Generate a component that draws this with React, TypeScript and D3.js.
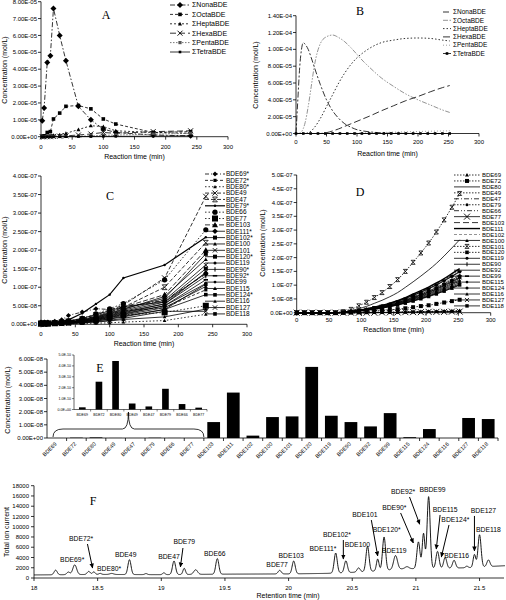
import React from 'react';
import * as d3 from 'd3';

const SANS = "'Liberation Sans', Arial, Helvetica, sans-serif";
const SERIF = "'Liberation Serif', 'Times New Roman', serif";

// ---------------- Panel A (units 1e-5 mol/L) ----------------
const aTimes = [2, 5, 10, 15, 20, 30, 40, 60, 80, 100, 120, 180, 240];
const aNames = ['ΣNonaBDE', 'ΣOctaBDE', 'ΣHeptaBDE', 'ΣHexaBDE', 'ΣPentaBDE', 'ΣTetraBDE'];
const aNona = [0.95, 1.7, 4.4, 4.8, 7.6, 6.0, 4.5, 1.8, 1.0, 0.45, 0.25, 0.1, 0.05];
const aOcta = [0.02, 0.05, 0.25, 0.3, 1.05, 1.4, 1.8, 1.85, 1.65, 1.05, 0.75, 0.25, 0.3];
const aHepta = [0, 0, 0.02, 0.05, 0.08, 0.12, 0.2, 0.42, 0.65, 0.6, 0.35, 0.25, 0.2];
const aHexa = [0, 0, 0, 0, 0.02, 0.03, 0.05, 0.1, 0.16, 0.25, 0.2, 0.3, 0.35];
const aPenta = [0, 0, 0, 0, 0, 0.01, 0.02, 0.03, 0.05, 0.08, 0.1, 0.15, 0.2];
const aTetra = [0, 0, 0, 0, 0, 0, 0, 0.01, 0.01, 0.02, 0.02, 0.03, 0.05];

// ---------------- Panel B (units 1e-5 mol/L) ----------------
const bTimes = [0, 3, 6, 9, 12, 15, 20, 25, 30, 40, 50, 60, 70, 80, 90, 100, 110, 120, 140, 160, 180, 200, 220, 240, 252];
const bNona = [0, 4.0, 7.8, 10.0, 10.8, 10.6, 10.0, 9.0, 7.9, 5.8, 4.0, 2.7, 1.8, 1.15, 0.75, 0.45, 0.3, 0.2, 0.08, 0.03, 0.01, 0, 0, 0, 0];
const bOcta = [0, 0, 0.05, 0.2, 0.6, 1.3, 3.2, 5.6, 8.0, 10.7, 11.5, 11.7, 11.4, 10.9, 10.2, 9.4, 8.6, 7.9, 6.6, 5.6, 4.7, 4.0, 3.4, 2.8, 2.5];
const bHepta = [0, 0, 0, 0, 0, 0, 0.1, 0.3, 0.7, 1.8, 3.2, 4.6, 6.0, 7.2, 8.2, 9.0, 9.6, 10.1, 10.8, 11.1, 11.3, 11.35, 11.3, 11.1, 11.0];
const bHexa = [0, 0, 0, 0, 0, 0, 0, 0, 0, 0, 0.1, 0.3, 0.55, 0.85, 1.15, 1.45, 1.75, 2.05, 2.7, 3.3, 3.9, 4.4, 4.95, 5.45, 5.7];
const bPenta = [0, 0, 0, 0, 0, 0, 0, 0, 0, 0, 0, 0, 0, 0, 0.02, 0.04, 0.06, 0.08, 0.12, 0.16, 0.2, 0.24, 0.27, 0.3, 0.32];
const bTetraTimes = [0, 12, 24, 36, 48, 60, 72, 84, 96, 108, 120, 132, 144, 156, 168, 180, 192, 204, 216, 228, 240, 252];
const bTetra = [0, 0, 0, 0, 0, 0, 0, 0, 0, 0, 0, 0, 0, 0, 0, 0, 0, 0, 0, 0, 0, 0];

// ---------------- Panel C (units 1e-8 mol/L) ----------------
const cTimes = [0, 5, 10, 20, 30, 40, 60, 80, 100, 120, 180, 240];
const cNames = ['BDE69*', 'BDE72*', 'BDE80*', 'BDE49', 'BDE47', 'BDE79*', 'BDE66', 'BDE77', 'BDE103', 'BDE111*', 'BDE102*', 'BDE100', 'BDE101', 'BDE120*', 'BDE119', 'BDE90*', 'BDE92*', 'BDE99', 'BDE115', 'BDE124*', 'BDE116', 'BDE127', 'BDE118'];
const cValues = [
  [0.6, 0.6, 0.6, 0.8, 1.2, 2.4, 3.3, 4.2, 4.0, 4.6, 6.5, 13.5],
  [0.3, 0.3, 0.3, 0.4, 0.5, 0.7, 1.0, 1.6, 2.6, 3.6, 4.5, 9.3],
  [0, 0, 0, 0, 0, 0.1, 0.2, 0.3, 0.4, 0.6, 1.0, 2.7],
  [0.2, 0.2, 0.3, 0.3, 0.5, 0.8, 1.5, 2.6, 3.8, 5.2, 12.5, 34.5],
  [0.2, 0.2, 0.2, 0.3, 0.5, 0.8, 1.3, 2.2, 3.2, 4.6, 10.0, 22.0],
  [0.5, 0.5, 0.5, 0.6, 0.8, 1.2, 3.0, 5.5, 8.0, 12.5, 16.0, 23.5],
  [0.3, 0.3, 0.3, 0.4, 0.6, 0.9, 1.6, 2.8, 4.2, 5.6, 12.0, 25.5],
  [0.2, 0.2, 0.2, 0.3, 0.4, 0.5, 0.8, 1.2, 1.8, 2.5, 3.2, 5.0],
  [0.2, 0.2, 0.2, 0.3, 0.5, 0.7, 1.3, 2.2, 3.3, 4.6, 8.0, 20.0],
  [0.3, 0.3, 0.3, 0.4, 0.6, 0.9, 1.6, 2.6, 3.6, 4.8, 6.0, 13.8],
  [0.2, 0.2, 0.2, 0.3, 0.4, 0.7, 1.2, 2.0, 3.0, 4.2, 7.0, 19.0],
  [0.2, 0.2, 0.2, 0.3, 0.4, 0.6, 1.1, 1.9, 2.9, 4.0, 7.5, 17.5],
  [0.2, 0.2, 0.2, 0.3, 0.4, 0.6, 1.0, 1.8, 2.7, 3.8, 6.5, 16.0],
  [0.1, 0.1, 0.2, 0.2, 0.3, 0.5, 0.9, 1.6, 2.5, 3.5, 6.0, 15.0],
  [0.1, 0.1, 0.2, 0.2, 0.3, 0.5, 0.9, 1.5, 2.3, 3.3, 5.5, 14.0],
  [0.1, 0.1, 0.1, 0.2, 0.3, 0.4, 0.8, 1.4, 2.2, 3.1, 5.5, 13.0],
  [0.1, 0.1, 0.1, 0.2, 0.3, 0.4, 0.7, 1.3, 2.0, 2.9, 5.0, 12.0],
  [0.1, 0.1, 0.1, 0.2, 0.3, 0.4, 0.7, 1.2, 1.9, 2.7, 5.0, 11.0],
  [0.1, 0.1, 0.1, 0.2, 0.2, 0.3, 0.6, 1.1, 1.7, 2.5, 4.5, 10.2],
  [0.1, 0.1, 0.1, 0.1, 0.2, 0.3, 0.5, 0.9, 1.5, 2.2, 4.0, 8.0],
  [0, 0, 0.1, 0.1, 0.1, 0.2, 0.4, 0.6, 0.9, 1.3, 2.0, 4.1],
  [0, 0, 0.1, 0.1, 0.1, 0.2, 0.4, 0.7, 1.1, 1.6, 3.5, 3.5],
  [0.1, 0.1, 0.1, 0.1, 0.2, 0.3, 0.5, 0.9, 1.4, 2.0, 4.0, 10.8],
];

// ---------------- Panel D (units 1e-8 mol/L) ----------------
const dTimes = [0, 12, 24, 36, 48, 60, 72, 84, 96, 108, 120, 132, 144, 156, 168, 180, 192, 204, 216, 228, 240, 252];
const dNames = ['BDE69', 'BDE72', 'BDE80', 'BDE49', 'BDE47', 'BDE79', 'BDE66', 'BDE77', 'BDE103', 'BDE111', 'BDE102', 'BDE100', 'BDE101', 'BDE120', 'BDE119', 'BDE90', 'BDE92', 'BDE99', 'BDE115', 'BDE124', 'BDE116', 'BDE127', 'BDE118'];
const dValues = [
  [0, 0, 0, 0, 0, 0, 0, 0, 0, 0.1, 0.1, 0.1, 0.2, 0.2, 0.3, 0.3, 0.4, 0.5, 0.5, 0.6, 0.7, 0.8],
  [0, 0, 0, 0, 0, 0, 0, 0.1, 0.3, 0.4, 0.6, 0.8, 1, 1.3, 1.6, 2, 2.4, 2.7, 3.2, 3.7, 4.2, 4.7],
  [0, 0, 0, 0, 0, 0, 0.3, 0.7, 1.5, 2.3, 3.4, 4.5, 5.8, 7.3, 9.2, 11.2, 13.3, 15.5, 17.9, 20.6, 23.5, 26.5],
  [0, 0, 0, 0, 0, 0, 0, 0, 0, 0, 0, 0.1, 0.1, 0.1, 0.1, 0.2, 0.2, 0.2, 0.2, 0.3, 0.3, 0.3],
  [0, 0, 0, 0, 0, 0, 0, 0, 0, 0, 0.1, 0.1, 0.1, 0.1, 0.2, 0.2, 0.3, 0.3, 0.3, 0.4, 0.4, 0.5],
  [0, 0, 0, 0, 0, 0, 0, 0, 0, 0, 0.1, 0.1, 0.1, 0.2, 0.2, 0.3, 0.3, 0.4, 0.4, 0.5, 0.5, 0.6],
  [0, 0, 0, 0, 0, 0, 0.2, 0.4, 0.9, 1.4, 2, 2.6, 3.4, 4.3, 5.4, 6.6, 7.8, 9.1, 10.5, 12.1, 13.7, 15.5],
  [0, 0, 0, 0, 0, 0, 0, 0, 0, 0, 0, 0.1, 0.1, 0.1, 0.2, 0.2, 0.2, 0.3, 0.3, 0.3, 0.4, 0.4],
  [0, 0, 0, 0, 0, 0, 0.1, 0.4, 0.7, 1.1, 1.6, 2.1, 2.7, 3.5, 4.3, 5.3, 6.3, 7.3, 8.5, 9.7, 11.1, 12.5],
  [0, 0, 0, 0, 0, 0, 0.2, 0.4, 0.9, 1.4, 2, 2.7, 3.5, 4.4, 5.5, 6.8, 8, 9.3, 10.8, 12.4, 14.2, 16],
  [0, 0, 0, 0, 0, 0, 0.1, 0.4, 0.8, 1.2, 1.8, 2.4, 3.1, 3.9, 4.8, 5.9, 7, 8.2, 9.5, 10.9, 12.4, 14],
  [0, 0, 0, 0, 0, 0, 0.1, 0.3, 0.6, 1, 1.4, 1.9, 2.4, 3, 3.8, 4.7, 5.5, 6.4, 7.4, 8.6, 9.7, 11],
  [0, 0, 0, 0, 0, 0, 0.4, 1.2, 2.5, 3.8, 5.5, 7.3, 9.5, 12, 15, 18.3, 21.7, 25.3, 29.3, 33.7, 38.3, 43.3],
  [0, 0, 0, 0, 0, 0, 0.1, 0.4, 0.8, 1.1, 1.7, 2.2, 2.8, 3.6, 4.5, 5.5, 6.5, 7.6, 8.8, 10.1, 11.5, 13],
  [0, 0, 0, 0, 0, 0, 0.1, 0.4, 0.9, 1.3, 1.9, 2.5, 3.2, 4.1, 5.1, 6.3, 7.4, 8.6, 10, 11.5, 13.1, 14.8],
  [0, 0, 0, 0, 0, 0, 0.1, 0.3, 0.7, 1.1, 1.5, 2, 2.6, 3.3, 4.2, 5.1, 6, 7, 8.1, 9.3, 10.6, 12],
  [0, 0, 0, 0, 0, 0, 0.1, 0.3, 0.6, 0.9, 1.3, 1.8, 2.3, 2.9, 3.6, 4.4, 5.3, 6.1, 7.1, 8.2, 9.3, 10.5],
  [0, 0, 0, 0, 0, 0, 0.2, 0.4, 0.9, 1.3, 1.9, 2.5, 3.3, 4.2, 5.2, 6.3, 7.5, 8.8, 10.2, 11.7, 13.3, 15],
  [0, 0, 0, 0, 0, 0, 0.1, 0.3, 0.7, 1, 1.5, 1.9, 2.5, 3.2, 4, 4.9, 5.8, 6.7, 7.8, 8.9, 10.2, 11.5],
  [0, 0, 0, 0, 0, 0, 0.1, 0.4, 0.8, 1.2, 1.7, 2.3, 3, 3.7, 4.7, 5.7, 6.8, 7.9, 9.1, 10.5, 11.9, 13.5],
  [0, 0, 0, 0, 0, 0, 0.1, 0.3, 0.6, 0.9, 1.3, 1.7, 2.2, 2.8, 3.5, 4.2, 5, 5.8, 6.8, 7.8, 8.9, 10],
  [0, 0, 0, 0, 0, 0, 0.1, 0.4, 0.7, 1.1, 1.6, 2.2, 2.8, 3.5, 4.4, 5.4, 6.4, 7.5, 8.7, 10, 11.3, 12.8],
  [0, 0, 0, 0, 0, 0, 0.1, 0.3, 0.6, 0.9, 1.3, 1.7, 2.2, 2.8, 3.5, 4.3, 5.1, 6, 6.9, 7.9, 9, 10.2],
];

// ---------------- Panel E ----------------
const eCats = ['BDE69', 'BDE72', 'BDE80', 'BDE49', 'BDE47', 'BDE79', 'BDE66', 'BDE77', 'BDE103', 'BDE111', 'BDE102', 'BDE100', 'BDE101', 'BDE120', 'BDE119', 'BDE90', 'BDE92', 'BDE99', 'BDE115', 'BDE124', 'BDE116', 'BDE127', 'BDE118'];
const eValues = [0.002, 0.0255, 0.0445, 0.0055, 0.0028, 0.019, 0.005, 0.0017, 1.21, 3.45, 0.18, 1.59, 1.64, 5.4, 1.69, 1.21, 0.88, 1.89, 0.06, 0.68, 0, 1.52, 1.44]; // 1e-8
const iCats = ['BDE69', 'BDE72', 'BDE80', 'BDE49', 'BDE47', 'BDE79', 'BDE66', 'BDE77'];
const iValues = [0.2, 2.55, 4.45, 0.55, 0.28, 1.9, 0.5, 0.17]; // 1e-10

// ---------------- Panel F ----------------
const fBaseT = [18, 18.5, 19, 19.5, 20, 20.3, 20.5, 20.7, 20.9, 21.2, 21.4, 21.7];
const fBaseV = [600, 700, 650, 750, 800, 900, 1100, 1400, 1800, 1900, 2000, 2400];
const fPeakT = [18.17, 18.27, 18.32, 18.43, 18.47, 18.52, 18.61, 18.75, 18.88, 19.02, 19.10, 19.18, 19.27, 19.44, 19.93, 20.04, 20.37, 20.45, 20.55, 20.62, 20.70, 20.75, 20.84, 20.93, 21.02, 21.06, 21.10, 21.17, 21.23, 21.30, 21.40, 21.46, 21.50, 21.57];
const fPeakH = [900, 500, 1900, 600, 500, 200, 200, 2900, 200, 350, 2650, 1200, 900, 3050, 700, 2500, 3900, 2300, 800, 4900, 2300, 6500, 2700, 400, 5200, 6800, 14000, 3300, 2100, 1500, 300, 2500, 6300, 1300];
const fPeakW = [0.012, 0.012, 0.015, 0.012, 0.01, 0.01, 0.015, 0.012, 0.01, 0.01, 0.012, 0.01, 0.015, 0.012, 0.012, 0.012, 0.012, 0.012, 0.012, 0.012, 0.01, 0.012, 0.015, 0.015, 0.012, 0.01, 0.012, 0.012, 0.012, 0.012, 0.01, 0.01, 0.012, 0.012];
// annotation: label, text (t, signal), optional arrow from -> to
const fLabels = ['BDE69*', 'BDE72*', 'BDE80*', 'BDE49', 'BDE47', 'BDE79', 'BDE66', 'BDE77', 'BDE103', 'BDE111*', 'BDE102*', 'BDE100', 'BDE101', 'BDE120*', 'BDE119', 'BDE90*', 'BDE92*', 'BBDE99', 'BDE115', 'BDE124*', 'BDE127', 'BDE118', 'BDE116'];
const fLabelT = [18.30, 18.37, 18.59, 18.72, 19.06, 19.18, 19.42, 19.91, 20.02, 20.27, 20.38, 20.54, 20.60, 20.77, 20.83, 20.83, 20.90, 21.13, 21.23, 21.31, 21.53, 21.57, 21.32];
const fLabelS = [3120, 7200, 1360, 4100, 3700, 6630, 4300, 2150, 3900, 5260, 8000, 6050, 11900, 8970, 4875, 13260, 16380, 16770, 12870, 10920, 12680, 8970, 3900];
const fArrows = [
  { from: [18.42, 6630], to: [18.46, 1950] },
  { from: [19.17, 5850], to: [19.15, 2150] },
  { from: [20.43, 7400], to: [20.43, 3700] },
  { from: [20.65, 11300], to: [20.70, 4300] },
  { from: [20.88, 12680], to: [20.98, 6830] },
  { from: [20.95, 15800], to: [21.03, 10500] },
  { from: [21.19, 12290], to: [21.16, 5650] },
  { from: [21.26, 10340], to: [21.20, 4100] },
  { from: [21.46, 12100], to: [21.46, 5270] },
];

// ---------------- styles ----------------
type St = { dash?: string; color?: string; width?: number; marker?: string; r?: number };
const aStyles: St[] = [
  { dash: '5,2,1.5,2', marker: 'diamond', r: 3 },
  { dash: '3,2', marker: 'square', r: 1.8 },
  { dash: '2,2', marker: 'triangle', r: 2 },
  { dash: '6,3', marker: 'x', r: 2.5 },
  { dash: '1.5,1.5', color: '#555', marker: 'square', r: 1.6 },
  { marker: 'square', r: 1.3 },
];
const bStyles: St[] = [
  { dash: '6,2,2,2' },
  { dash: '5,1.5,1.5,1.5,1.5,1.5', color: '#777' },
  { dash: '1.5,2' },
  { dash: '7,3' },
  { dash: '1,2', color: '#888' },
  { marker: 'square', r: 1.3 },
];
const cStyles: St[] = [
  { dash: '4,2,1,2', marker: 'diamond', r: 2.5 },
  { dash: '3,2', marker: 'square', r: 1.6 },
  { dash: '1.5,2', marker: 'triangle', r: 1.8 },
  { dash: '4,2', marker: 'x', r: 2.6 },
  { dash: '4,2', marker: 'xbar', r: 2.4 },
  { width: 1.2, marker: 'circle', r: 1.2 },
  { dash: '1.5,2', marker: 'circle', r: 2.6 },
  { dash: '1.5,2', marker: 'square', r: 3 },
  { dash: '5,2', marker: 'triangle', r: 3 },
  { marker: 'diamond', r: 2.8 },
  { marker: 'square', r: 2 },
  { marker: 'triangle', r: 2 },
  { marker: 'x', r: 2.2 },
  { marker: 'square', r: 2 },
  { marker: 'circle', r: 1.5 },
  { marker: 'vbar', r: 2.2 },
  { marker: 'hbar', r: 2.2 },
  { marker: 'circle', r: 1.4 },
  { marker: 'triangle', r: 2 },
  { marker: 'square', r: 1.8 },
  { marker: 'triangle', r: 1.8 },
  { marker: 'x', r: 2.2 },
  { marker: 'square', r: 1.8 },
];
const dStyles: St[] = [
  { dash: '1.5,1.5', marker: 'triangle', r: 2 },
  { dash: '1.5,1.5', marker: 'square', r: 2 },
  {},
  { dash: '1.5,1.5' },
  { dash: '5,2,1,2' },
  { dash: '1.5,1.5', marker: 'circle', r: 1.5 },
  { dash: '5,2,1,2,1,2' },
  { marker: 'x', r: 3 },
  { dash: '6,3' },
  { width: 1.4 },
  { dash: '3,2', color: '#777' },
  { marker: 'triangle', r: 1.8 },
  { dash: '1.5,1.5', marker: 'xbar', r: 2 },
  { dash: '1.5,1.5', marker: 'square', r: 1.8 },
  { marker: 'circle', r: 1.5 },
  { marker: 'vbar', r: 2 },
  {},
  { marker: 'hbar', r: 2 },
  { marker: 'circle', r: 1.3 },
  { marker: 'circle', r: 1.5 },
  { marker: 'triangle', r: 1.8 },
  { marker: 'x', r: 2 },
  { marker: 'square', r: 1.7 },
];

const fmtE = (v: number, d: number) => {
  const s = v.toExponential(d);
  const [m, e] = s.split('e');
  const sign = e[0] === '-' ? '-' : '+';
  const num = e.replace(/[+-]/, '').padStart(2, '0');
  return `${m}E${sign}${num}`;
};

function Marker({ type, x, y, r, color }: { type?: string; x: number; y: number; r: number; color: string }) {
  if (!type) return null;
  switch (type) {
    case 'diamond':
      return <path d={`M${x},${y - r}L${x + r},${y}L${x},${y + r}L${x - r},${y}Z`} fill={color} />;
    case 'square':
      return <rect x={x - r} y={y - r} width={2 * r} height={2 * r} fill={color} />;
    case 'triangle':
      return <path d={`M${x},${y - r}L${x + r},${y + r * 0.8}L${x - r},${y + r * 0.8}Z`} fill={color} />;
    case 'x':
      return <path d={`M${x - r},${y - r}L${x + r},${y + r}M${x - r},${y + r}L${x + r},${y - r}`} stroke={color} strokeWidth={0.9} fill="none" />;
    case 'xbar':
      return <path d={`M${x - r},${y - r}L${x + r},${y + r}M${x - r},${y + r}L${x + r},${y - r}M${x - r},${y - r}L${x + r},${y - r}M${x - r},${y + r}L${x + r},${y + r}`} stroke={color} strokeWidth={0.8} fill="none" />;
    case 'circle':
      return <circle cx={x} cy={y} r={r} fill={color} />;
    case 'vbar':
      return <path d={`M${x},${y - r}L${x},${y + r}`} stroke={color} strokeWidth={1} />;
    case 'hbar':
      return <path d={`M${x - r},${y}L${x + r},${y}`} stroke={color} strokeWidth={1.6} />;
    default:
      return null;
  }
}

type Ser = { xs: number[]; ys: number[]; unit: number; st: St; smooth?: boolean };
type Box = { l: number; r: number; b: number; t: number };

function XYPanel(props: {
  box: Box; xMax: number; yMax: number; nY: number; yDigits: number; series: Ser[];
  names: string[]; legStyles: St[]; leg: { x1: number; x2: number; tx: number; y0: number; dy: number; fs: number };
  letter: string; letterX: number; letterY: number;
  xTickY: number; xTitleY: number; yTitleX: number; yTitleY: number; tickFs: number;
}) {
  const { box, xMax, yMax, nY, yDigits, series, names, legStyles, leg } = props;
  const x = d3.scaleLinear().domain([0, xMax]).range([box.l, box.r]);
  const y = d3.scaleLinear().domain([0, yMax]).range([box.b, box.t]);
  const xTicks = d3.range(0, xMax + 1, 50);
  const yTicks = d3.range(0, nY + 1).map((i) => (yMax * i) / nY);
  return (
    <g>
      {series.map((s, i) => {
        const pts = s.xs.map((t, j) => [x(t), y(s.ys[j] * s.unit)] as [number, number]);
        const gen = d3.line().curve(s.smooth ? d3.curveMonotoneX : d3.curveLinear);
        const color = s.st.color || '#000';
        return (
          <g key={i}>
            <path d={gen(pts) || ''} fill="none" stroke={color} strokeWidth={s.st.width || 0.8} strokeDasharray={s.st.dash} />
            {s.st.marker && pts.map((p, j) => <Marker key={j} type={s.st.marker} x={p[0]} y={p[1]} r={s.st.r || 2} color={color} />)}
          </g>
        );
      })}
      {/* axes */}
      <line x1={box.l} x2={box.l} y1={box.b} y2={box.t} stroke="#000" strokeWidth={0.8} />
      <line x1={box.l} x2={box.r} y1={box.b} y2={box.b} stroke="#000" strokeWidth={0.8} />
      {yTicks.map((v, i) => (
        <g key={i}>
          <line x1={box.l - 3} x2={box.l} y1={y(v)} y2={y(v)} stroke="#000" strokeWidth={0.8} />
          <text x={box.l - 4} y={y(v)} dy="0.35em" textAnchor="end" fontSize={props.tickFs}>{fmtE(v, yDigits)}</text>
        </g>
      ))}
      {xTicks.map((v, i) => (
        <g key={i}>
          <line x1={x(v)} x2={x(v)} y1={box.b} y2={box.b + 3} stroke="#000" strokeWidth={0.8} />
          <text x={x(v)} y={props.xTickY} dy="0.35em" textAnchor="middle" fontSize={props.tickFs}>{v}</text>
        </g>
      ))}
      <text x={(box.l + box.r) / 2} y={props.xTitleY} dy="0.35em" textAnchor="middle" fontSize={7}>Reaction time (min)</text>
      <text transform={`translate(${props.yTitleX},${props.yTitleY}) rotate(-90)`} dy="0.35em" textAnchor="middle" fontSize={7}>Concentration (mol/L)</text>
      <text x={props.letterX} y={props.letterY} dy="0.35em" textAnchor="middle" fontSize={12} fontFamily={SERIF}>{props.letter}</text>
      {/* legend */}
      {names.map((n, i) => {
        const st = legStyles[i];
        const yy = leg.y0 + i * leg.dy;
        const color = st.color || '#000';
        return (
          <g key={n}>
            <line x1={leg.x1} x2={leg.x2} y1={yy} y2={yy} stroke={color} strokeWidth={st.width || 0.8} strokeDasharray={st.dash} />
            <Marker type={st.marker} x={(leg.x1 + leg.x2) / 2} y={yy} r={st.r || 2} color={color} />
            <text x={leg.tx} y={yy} dy="0.35em" fontSize={leg.fs}>{n}</text>
          </g>
        );
      })}
    </g>
  );
}

function PanelE() {
  const x = d3.scaleBand().domain(eCats).range([47, 498]).paddingInner(0.35).paddingOuter(0.175);
  const xb = d3.scaleBand().domain(eCats).range([47, 498]);
  const y = d3.scaleLinear().domain([0, 6e-8]).range([438, 359]);
  const yTicks = d3.range(0, 7).map((i) => i * 1e-8);
  const ix = d3.scaleBand().domain(iCats).range([74, 207]).paddingInner(0.6).paddingOuter(0.3);
  const ixb = d3.scaleBand().domain(iCats).range([74, 207]);
  const iy = d3.scaleLinear().domain([0, 5e-10]).range([409.5, 355]);
  const iTicks = d3.range(0, 6).map((i) => i * 1e-10);
  const bl = (xb('BDE69') as number) + 6;
  const br = xb('BDE103') as number;
  const bc = (bl + br) / 2;
  const by0 = y(0) - 1;
  const by1 = by0 - 8;
  const brace = `M${bl},${by0} Q${bl},${by1} ${bl + 10},${by1} L${bc - 6},${by1} Q${bc},${by1} ${bc},${by1 - 17} Q${bc},${by1} ${bc + 6},${by1} L${br - 10},${by1} Q${br},${by1} ${br},${by0}`;
  return (
    <g>
      {eCats.map((c, i) => (
        <rect key={c} x={x(c)} width={x.bandwidth()} y={y(eValues[i] * 1e-8)} height={y(0) - y(eValues[i] * 1e-8)} fill="#000" />
      ))}
      <line x1={47} x2={47} y1={y(0)} y2={y(6e-8)} stroke="#000" strokeWidth={0.8} />
      <line x1={47} x2={498} y1={y(0)} y2={y(0)} stroke="#000" strokeWidth={0.8} />
      {yTicks.map((v, i) => (
        <g key={i}>
          <line x1={44} x2={47} y1={y(v)} y2={y(v)} stroke="#000" strokeWidth={0.8} />
          <text x={43} y={y(v)} dy="0.35em" textAnchor="end" fontSize={6}>{fmtE(v, 2)}</text>
        </g>
      ))}
      {eCats.map((c, i) => (
        <g key={c}>
          <line x1={(xb(c) as number) + xb.bandwidth()} x2={(xb(c) as number) + xb.bandwidth()} y1={y(0)} y2={y(0) + 3} stroke="#000" strokeWidth={0.8} />
          <text transform={`translate(${(xb(c) as number) + xb.bandwidth() / 2 - 1},${y(0) + 5}) rotate(-45)`} textAnchor="end" dy="0.35em" fontSize={5.5}>{c}</text>
        </g>
      ))}
      <text transform={`translate(8,400) rotate(-90)`} dy="0.35em" textAnchor="middle" fontSize={7}>Concentration (mol/L)</text>
      <text x={100} y={368} dy="0.35em" textAnchor="middle" fontSize={12} fontFamily={SERIF}>E</text>
      {/* inset */}
      {iCats.map((c, i) => (
        <rect key={c} x={ix(c)} width={ix.bandwidth()} y={iy(iValues[i] * 1e-10)} height={iy(0) - iy(iValues[i] * 1e-10)} fill="#000" />
      ))}
      <line x1={74} x2={74} y1={iy(0)} y2={iy(5e-10)} stroke="#000" strokeWidth={0.6} />
      <line x1={74} x2={207} y1={iy(0)} y2={iy(0)} stroke="#000" strokeWidth={0.6} />
      {iTicks.map((v, i) => (
        <g key={i}>
          <line x1={72} x2={74} y1={iy(v)} y2={iy(v)} stroke="#000" strokeWidth={0.5} />
          <text x={71} y={iy(v)} dy="0.35em" textAnchor="end" fontSize={3.6}>{fmtE(v, 1)}</text>
        </g>
      ))}
      {iCats.map((c) => (
        <g key={c}>
          <line x1={(ixb(c) as number) + ixb.bandwidth()} x2={(ixb(c) as number) + ixb.bandwidth()} y1={iy(0)} y2={iy(0) + 2} stroke="#000" strokeWidth={0.5} />
          <text x={(ixb(c) as number) + ixb.bandwidth() / 2} y={iy(0) + 5} dy="0.35em" textAnchor="middle" fontSize={3.6}>{c}</text>
        </g>
      ))}
      <path d={brace} fill="none" stroke="#000" strokeWidth={0.8} />
    </g>
  );
}

function PanelF() {
  const x = d3.scaleLinear().domain([18, 21.7]).range([34, 505]);
  const y = d3.scaleLinear().domain([0, 18000]).range([578, 485.7]);
  const base = d3.scaleLinear().domain(fBaseT).range(fBaseV);
  const ts = d3.range(18, 21.7001, 0.002);
  const sig = (t: number) => {
    let s = base(t);
    for (let k = 0; k < fPeakT.length; k++) {
      const z = (t - fPeakT[k]) / fPeakW[k];
      s += fPeakH[k] * Math.exp(-0.5 * z * z);
    }
    return s;
  };
  const line = d3.line<number>().x((t) => x(t)).y((t) => y(sig(t)));
  const xTicks = [18, 18.5, 19, 19.5, 20, 20.5, 21, 21.5];
  const yTicks = d3.range(0, 18001, 2000);
  return (
    <g>
      <defs>
        <marker id="ah" viewBox="0 0 10 10" refX="9" refY="5" markerWidth="5" markerHeight="5" orient="auto">
          <path d="M0,0.5L10,5L0,9.5Z" fill="#000" />
        </marker>
      </defs>
      <path d={line(ts) || ''} fill="none" stroke="#000" strokeWidth={0.9} />
      <line x1={34} x2={34} y1={y(0)} y2={y(18000)} stroke="#000" strokeWidth={0.8} />
      <line x1={34} x2={504} y1={y(0)} y2={y(0)} stroke="#000" strokeWidth={0.8} />
      {yTicks.map((v) => (
        <g key={v}>
          <line x1={31} x2={34} y1={y(v)} y2={y(v)} stroke="#000" strokeWidth={0.8} />
          <text x={29} y={y(v)} dy="0.35em" textAnchor="end" fontSize={6}>{v}</text>
        </g>
      ))}
      {xTicks.map((v) => (
        <g key={v}>
          <line x1={x(v)} x2={x(v)} y1={y(0)} y2={y(0) + 3} stroke="#000" strokeWidth={0.8} />
          <text x={x(v)} y={588} dy="0.35em" textAnchor="middle" fontSize={6}>{v}</text>
        </g>
      ))}
      <text x={288} y={596} dy="0.35em" textAnchor="middle" fontSize={7}>Retention time (min)</text>
      <text transform={`translate(7,532) rotate(-90)`} dy="0.35em" textAnchor="middle" fontSize={7}>Total ion current</text>
      <text x={93} y={501} dy="0.35em" textAnchor="middle" fontSize={12} fontFamily={SERIF}>F</text>
      {fLabels.map((l, i) => (
        <text key={l} x={x(fLabelT[i])} y={y(fLabelS[i])} textAnchor="middle" fontSize={6.8}>{l}</text>
      ))}
      {fArrows.map((a, i) => (
        <line key={i} x1={x(a.from[0])} y1={y(a.from[1])} x2={x(a.to[0])} y2={y(a.to[1])} stroke="#000" strokeWidth={1} markerEnd="url(#ah)" />
      ))}
    </g>
  );
}

export default function App() {
  const aSeries: Ser[] = [aNona, aOcta, aHepta, aHexa, aPenta, aTetra].map((ys, i) => ({ xs: aTimes, ys, unit: 1e-5, st: aStyles[i] }));
  const bSeries: Ser[] = [
    { xs: bTimes, ys: bNona, unit: 1e-5, st: bStyles[0], smooth: true },
    { xs: bTimes, ys: bOcta, unit: 1e-5, st: bStyles[1], smooth: true },
    { xs: bTimes, ys: bHepta, unit: 1e-5, st: bStyles[2], smooth: true },
    { xs: bTimes, ys: bHexa, unit: 1e-5, st: bStyles[3], smooth: true },
    { xs: bTimes, ys: bPenta, unit: 1e-5, st: bStyles[4], smooth: true },
    { xs: bTetraTimes, ys: bTetra, unit: 1e-5, st: bStyles[5] },
  ];
  const cSeries: Ser[] = cValues.map((ys, i) => ({ xs: cTimes, ys, unit: 1e-8, st: cStyles[i] }));
  const dSeries: Ser[] = dValues.map((ys, i) => ({ xs: dTimes, ys, unit: 1e-8, st: dStyles[i], smooth: true }));
  return (
    <svg width={506} height={600} style={{ position: 'absolute', left: 0, top: 0, background: '#fff' }} fontFamily={SANS}>
      <rect width={506} height={600} fill="#fff" />
      <XYPanel box={{ l: 41, r: 228, b: 136.7, t: 1.7 }} xMax={300} yMax={8e-5} nY={8} yDigits={2} series={aSeries}
        names={aNames} legStyles={aStyles} leg={{ x1: 170, x2: 190, tx: 192, y0: 5, dy: 9.4, fs: 7 }}
        letter="A" letterX={106} letterY={15} xTickY={147} xTitleY={156.5} yTitleX={5} yTitleY={70} tickFs={6} />
      <XYPanel box={{ l: 296, r: 479, b: 133.5, t: 15.7 }} xMax={300} yMax={1.4e-4} nY={7} yDigits={2} series={bSeries}
        names={aNames} legStyles={bStyles} leg={{ x1: 443, x2: 451, tx: 453, y0: 12, dy: 8.3, fs: 6.5 }}
        letter="B" letterX={360} letterY={11} xTickY={142} xTitleY={153.5} yTitleX={256} yTitleY={75} tickFs={6} />
      <XYPanel box={{ l: 41, r: 247, b: 324.3, t: 176 }} xMax={300} yMax={4e-7} nY={8} yDigits={2} series={cSeries}
        names={cNames} legStyles={cStyles} leg={{ x1: 205, x2: 225, tx: 226, y0: 174, dy: 6.36, fs: 6.5 }}
        letter="C" letterX={110} letterY={196} xTickY={333.5} xTitleY={344} yTitleX={5} yTitleY={250} tickFs={6} />
      <XYPanel box={{ l: 296.7, r: 490.7, b: 312.7, t: 175 }} xMax={300} yMax={5e-7} nY={10} yDigits={1} series={dSeries}
        names={dNames} legStyles={dStyles} leg={{ x1: 454, x2: 480, tx: 482, y0: 175, dy: 5.95, fs: 6 }}
        letter="D" letterX={360} letterY={192} xTickY={320} xTitleY={330} yTitleX={263} yTitleY={243} tickFs={6} />
      <PanelE />
      <PanelF />
    </svg>
  );
}
